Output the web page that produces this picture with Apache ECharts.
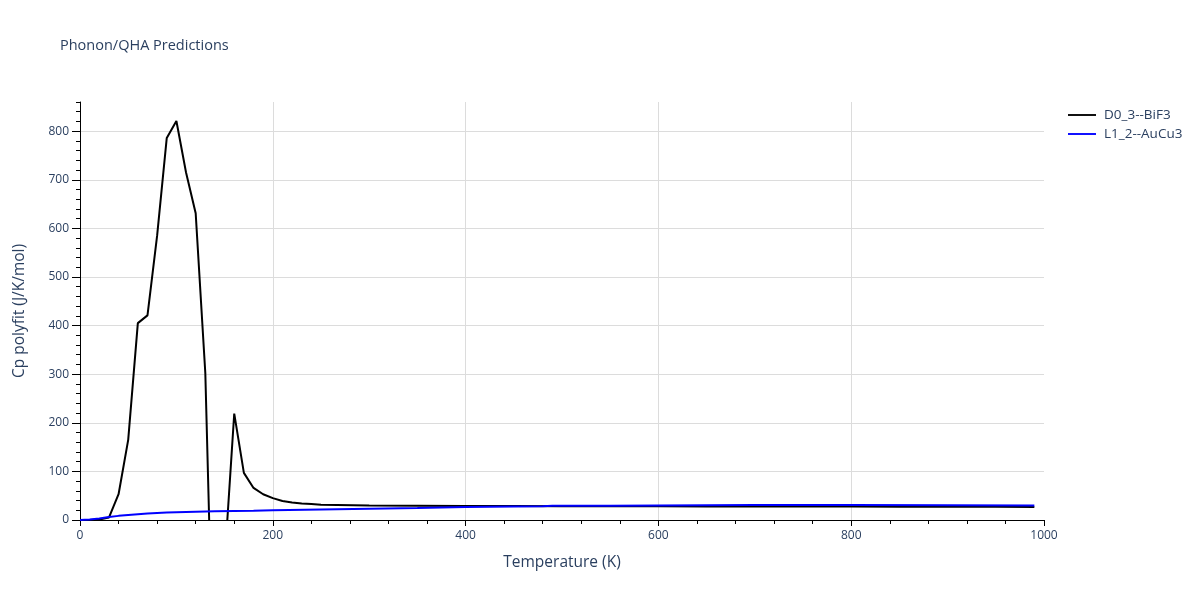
<!DOCTYPE html>
<html>
<head>
<meta charset="utf-8">
<script src="https://cdn.jsdelivr.net/npm/echarts@6/dist/echarts.min.js"></script>
<style>html,body{margin:0;padding:0;background:#fff}#c{width:1200px;height:600px}</style>
</head>
<body>
<div id="c"></div>
<script>
const titleText = 'Phonon/QHA Predictions';
const xAxisTitle = 'Temperature (K)';
const yAxisTitle = 'Cp polyfit (J/K/mol)';
const seriesNames = ['D0_3--BiF3', 'L1_2--AuCu3'];
const yTickValues = [0, 100, 200, 300, 400, 500, 600, 700, 800];

const tempsBlack = [10,20,30,40,50,60,70,80,90,100,110,120,130,140,150,160,170,180,190,200,210,220,230,240,250,300,350,400,450,500,550,600,650,700,750,800,850,900,950,990];
const cpBlack = [0,1,5,53,165,405,421,585,786,821,715,631,302,-453,-86,219,97,66,53,45,39,36,34,33,31.5,30,29.5,29,28.8,28.5,28.3,28.2,28,27.9,27.8,27.6,27.5,27.3,27.2,27];

const tempsBlue = [0,10,20,30,40,50,60,70,80,90,100,120,140,160,180,200,250,300,350,400,450,480,490,500,550,600,700,800,900,990];
const cpBlue = [0,1,3,6,8.5,10.5,12,13.5,14.5,15.2,15.8,17,18,18.7,19.2,20,21.5,23,24.5,26.5,27.8,28.5,29.5,29.2,29.5,30,31,30.8,30.3,30];

const pair = (xs, ys) => xs.map((x, i) => [x, ys[i]]);
const txt = '#2a3f5f';
const font = 'Open Sans';

const chart = echarts.init(document.getElementById('c'));
chart.setOption({
  animation: false,
  backgroundColor: '#fff',
  title: {
    text: titleText, left: 55, top: 33,
    textStyle: {fontFamily: font, fontSize: 14.5, fontWeight: 'normal', color: txt}
  },
  legend: {
    orient: 'vertical', left: 1063, top: 103, itemWidth: 28, itemHeight: 10, itemGap: 5,
    textStyle: {fontFamily: font, fontSize: 13.5, lineHeight: 14, color: txt, padding: [0, 0, 0, 3]},
    data: seriesNames.map(n => ({name: n, icon: 'path://M0,4 L30,4 L30,6 L0,6 Z'}))
  },
  grid: {left: 80, right: 156, top: 102, bottom: 80, containLabel: false},
  xAxis: [{
    type: 'value', min: 0, max: 1000, interval: 200,
    name: xAxisTitle, nameLocation: 'middle', nameGap: 35,
    nameTextStyle: {fontFamily: font, fontSize: 15.5, color: txt},
    axisLine: {show: true, lineStyle: {color: '#000', width: 1}},
    axisTick: {show: true, length: 6, lineStyle: {color: '#000'}},
    minorTick: {show: true, splitNumber: 5, length: 4, lineStyle: {color: '#000'}},
    axisLabel: {fontFamily: font, fontSize: 12, color: txt, margin: 10, formatter: v => String(v)},
    splitLine: {show: true, showMinLine: false, showMaxLine: false, lineStyle: {color: '#dcdcdc', width: 1}}
  }],
  yAxis: [{
    type: 'value', min: 0, max: 860, interval: 100,
    name: yAxisTitle, nameLocation: 'middle', nameGap: 52,
    nameTextStyle: {fontFamily: font, fontSize: 15.5, color: txt},
    axisLine: {show: true, lineStyle: {color: '#000', width: 1}},
    axisTick: {show: true, length: 8, customValues: yTickValues, lineStyle: {color: '#000'}},
    axisLabel: {fontFamily: font, fontSize: 12, color: txt, margin: 11, customValues: yTickValues, formatter: v => String(v)},
    splitLine: {show: true, showMinLine: false, showMaxLine: true, lineStyle: {color: '#dcdcdc', width: 1}}
  }, {
    type: 'value', min: 0, max: 860, interval: 20, position: 'left',
    axisLine: {show: false},
    axisTick: {show: true, length: 4, lineStyle: {color: '#000'}},
    axisLabel: {show: false},
    splitLine: {show: false}
  }],
  series: [{
    name: seriesNames[0], type: 'line', data: pair(tempsBlack, cpBlack),
    showSymbol: false, symbol: 'none', clip: true, z: 3,
    lineStyle: {color: '#000000', width: 2}, itemStyle: {color: '#000000'}
  }, {
    name: seriesNames[1], type: 'line', data: pair(tempsBlue, cpBlue),
    showSymbol: false, symbol: 'none', clip: true, z: 4,
    lineStyle: {color: '#0000ff', width: 2}, itemStyle: {color: '#0000ff'}
  }]
});
</script>
</body>
</html>
